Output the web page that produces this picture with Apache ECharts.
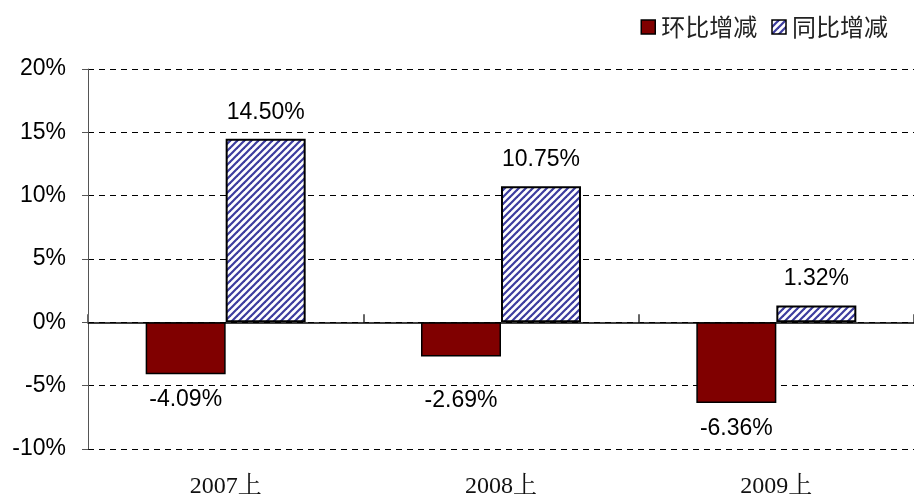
<!DOCTYPE html>
<html>
<head>
<meta charset="utf-8">
<script src="https://cdn.jsdelivr.net/npm/echarts@6/dist/echarts.min.js"></script>
<style>
html,body{margin:0;padding:0;background:#fff;}
#c{width:914px;height:499px;}
</style>
</head>
<body>
<div id="c"></div>
<script>
const categories = ['2007上', '2008上', '2009上'];
const seriesNames = ['环比增减', '同比增减'];
const hbValues = [-4.09, -2.69, -6.36];
const tbValues = [14.50, 10.75, 1.32];
const yTickMin = -10, yTickMax = 20, yTickStep = 5;

function makeHatch() {
  const s = 7;
  const cv = document.createElement('canvas');
  cv.width = s; cv.height = s;
  const ctx = cv.getContext('2d');
  ctx.fillStyle = '#ffffff';
  ctx.fillRect(0, 0, s, s);
  ctx.strokeStyle = '#3c3c9e';
  ctx.lineWidth = 2.2;
  ctx.lineCap = 'square';
  [-s, 0, s].forEach(ox => {
    ctx.beginPath();
    ctx.moveTo(ox, s);
    ctx.lineTo(ox + s, 0);
    ctx.stroke();
  });
  return cv;
}
const hatch = { image: makeHatch(), repeat: 'repeat' };

const chart = echarts.init(document.getElementById('c'), null, { renderer: 'canvas' });
const labelFont = { fontFamily: 'Liberation Sans, Arial, sans-serif', fontSize: 23, color: '#000' };

const hbData = hbValues.map((v, i) => {
  const item = { value: v };
  if (i === 1) item.label = { offset: [0, 19] };
  return item;
});

chart.setOption({
  animation: false,
  backgroundColor: '#fff',
  legend: {
    right: 21, top: 10,
    icon: 'rect',
    itemWidth: 14, itemHeight: 14, itemGap: 14,
    textStyle: { fontFamily: 'Noto Sans CJK SC', fontSize: 24, color: '#222', padding: [0, 0, 0, 1] },
    data: [
      { name: seriesNames[0], itemStyle: { color: '#800000', borderColor: '#000', borderWidth: 1.5 } },
      { name: seriesNames[1], itemStyle: { color: hatch, borderColor: '#000', borderWidth: 1.5 } }
    ]
  },
  grid: { left: 88, top: 69, width: 830, bottom: 49 },
  xAxis: [
    {
      type: 'category', data: categories,
      axisLine: { onZero: true, lineStyle: { color: '#000', width: 1.5 } },
      axisTick: { show: true, inside: true, length: 8, lineStyle: { color: '#666', width: 2 } },
      axisLabel: { show: false },
      splitLine: { show: false }
    },
    {
      type: 'category', data: categories, position: 'bottom',
      axisLine: { show: false, onZero: false },
      axisTick: { show: false },
      axisLabel: { margin: 26, fontFamily: 'Liberation Serif, Noto Serif CJK SC, serif', fontSize: 24, color: '#111' }
    }
  ],
  yAxis: {
    type: 'value', min: yTickMin, max: yTickMax, interval: yTickStep,
    axisLine: { show: true, lineStyle: { color: '#555', width: 1 } },
    axisTick: { show: true, length: 6, lineStyle: { color: '#555' } },
    axisLabel: { formatter: '{value}%', margin: 22, fontFamily: 'Liberation Sans, Arial, sans-serif', fontSize: 23, color: '#000' },
    splitLine: { show: true, lineStyle: { color: '#000', width: 1, type: [6, 5] } }
  },
  series: [
    {
      name: seriesNames[0], type: 'bar', xAxisIndex: 0, data: hbData,
      barWidth: 80, barGap: '0%',
      itemStyle: { color: '#800000', borderColor: '#000', borderWidth: 1.5 },
      label: { show: true, position: 'bottom', distance: 14, formatter: p => p.value.toFixed(2) + '%', ...labelFont }
    },
    {
      name: seriesNames[1], type: 'bar', xAxisIndex: 0, data: tbValues,
      barWidth: 80, barGap: '0%',
      itemStyle: { color: hatch, borderColor: '#000', borderWidth: 2 },
      label: { show: true, position: 'top', distance: 15, formatter: p => p.value.toFixed(2) + '%', ...labelFont }
    }
  ]
});
</script>
</body>
</html>
